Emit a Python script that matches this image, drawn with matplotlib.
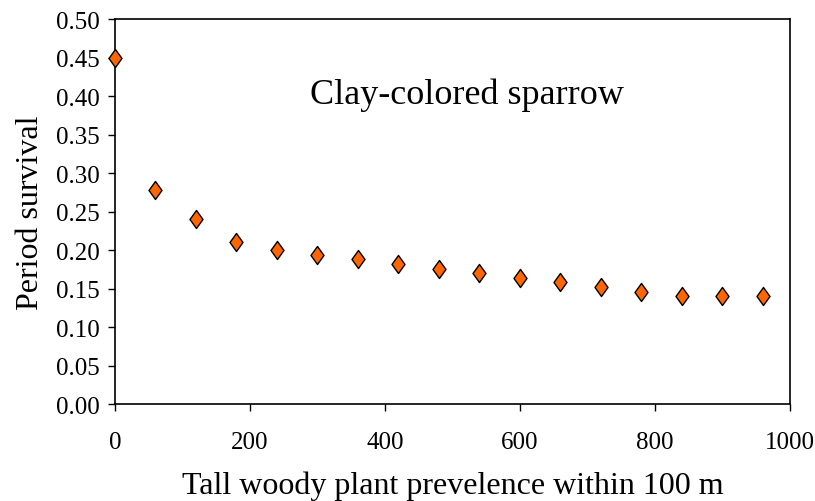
import matplotlib.pyplot as plt
from matplotlib.path import Path
from matplotlib.ticker import FormatStrFormatter

# tall woody plant prevalence (m) and period survival
prevalence = [0, 60, 120, 180, 240, 300, 360, 420, 480, 540, 600, 660, 720, 780, 840, 900, 960]
survival = [0.450, 0.278, 0.240, 0.210, 0.200, 0.194, 0.188, 0.182, 0.176, 0.170,
            0.164, 0.158, 0.152, 0.146, 0.140, 0.140, 0.140]

x_ticks = [0, 200, 400, 600, 800, 1000]
y_ticks = [0.00, 0.05, 0.10, 0.15, 0.20, 0.25, 0.30, 0.35, 0.40, 0.45, 0.50]

plt.rcParams['font.family'] = ['Liberation Serif', 'DejaVu Serif']

# excel-like diamond, a bit wider than matplotlib's thin diamond
diamond = Path([(0, 1), (0.72, 0), (0, -1), (-0.72, 0), (0, 1)],
               [Path.MOVETO, Path.LINETO, Path.LINETO, Path.LINETO, Path.CLOSEPOLY])

fig = plt.figure(figsize=(8.15, 5.02), dpi=100)
ax = fig.add_axes([0.141, 0.193, 0.828, 0.767])

ax.plot(prevalence, survival, linestyle='none', marker=diamond, markersize=13,
        markerfacecolor='#FF6600', markeredgecolor='black', markeredgewidth=1.0,
        clip_on=False, zorder=3)

ax.set_xlim(0, 1000)
ax.set_ylim(0, 0.5)
ax.set_xticks(x_ticks)
ax.set_yticks(y_ticks)
ax.yaxis.set_major_formatter(FormatStrFormatter('%.2f'))
ax.tick_params(direction='out', length=5, width=1, labelsize=18, pad=6)
ax.tick_params(axis='x', pad=14)
for s in ax.spines.values():
    s.set_linewidth(1.2)

ax.set_xlabel('Tall woody plant prevelence within 100 m', fontsize=23, labelpad=13)
ax.set_ylabel('Period survival', fontsize=23, labelpad=8)

ax.text(521, 0.403, 'Clay-colored sparrow', fontsize=26, ha='center', va='center')

fig.savefig('out.png', dpi=100)
